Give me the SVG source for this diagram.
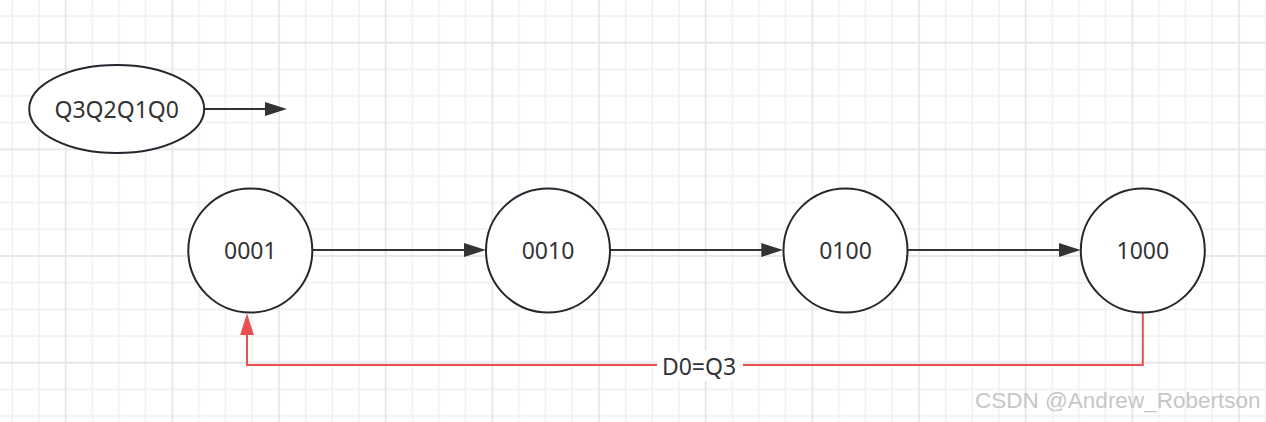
<svg xmlns="http://www.w3.org/2000/svg" width="1266" height="422" viewBox="0 0 1266 422">
  <defs>
    <pattern id="grid" patternUnits="userSpaceOnUse" x="-1" y="-24" width="106.667" height="106.667">
      <g stroke="#f0f0f0" stroke-width="1.5">
        <line x1="13.333" y1="0" x2="13.333" y2="106.667"/>
        <line x1="40" y1="0" x2="40" y2="106.667"/>
        <line x1="93.333" y1="0" x2="93.333" y2="106.667"/>
        <line x1="0" y1="13.333" x2="106.667" y2="13.333"/>
        <line x1="0" y1="40" x2="106.667" y2="40"/>
        <line x1="0" y1="93.333" x2="106.667" y2="93.333"/>
      </g>
      <g stroke="#e4e4e4" stroke-width="1.6">
        <line x1="66.667" y1="0" x2="66.667" y2="106.667"/>
        <line x1="0" y1="66.667" x2="106.667" y2="66.667"/>
      </g>
    </pattern>
    <marker id="arrowDark" markerUnits="userSpaceOnUse" markerWidth="22" markerHeight="14" refX="14" refY="7" orient="auto">
      <path d="M0,0 L22,7 L0,14 Z" fill="#333333"/>
    </marker>
    <marker id="arrowRed" markerUnits="userSpaceOnUse" markerWidth="22" markerHeight="14" refX="14" refY="7" orient="auto">
      <path d="M0,0 L22,7 L0,14 Z" fill="#e85050"/>
    </marker>
  </defs>
  <style>
    .node { fill: #ffffff; stroke: #23272e; stroke-width: 2; }
    .label { font-family: "Noto Sans", "Open Sans", sans-serif; font-size: 23px; fill: #333333; text-anchor: middle; }
    .edge { fill: none; stroke: #333333; stroke-width: 2; marker-end: url(#arrowDark); }
    .edge-red { fill: none; stroke: #e85050; stroke-width: 2; marker-end: url(#arrowRed); }
    .watermark { font-family: "Liberation Sans", Arial, sans-serif; font-size: 22.5px; fill: #c6c6c6; }
  </style>
  <rect x="0" y="0" width="1266" height="422" fill="#ffffff"/>
  <rect x="0" y="0" width="1266" height="422" fill="url(#grid)"/>

  <g id="connectors">
    <path class="edge" d="M204,109 H279"/>
    <path class="edge" d="M312.3,250 H478"/>
    <path class="edge" d="M610,250 H775.3"/>
    <path class="edge" d="M907.5,250 H1072.7"/>
    <path class="edge-red" d="M1142.8,312.5 V365 H247 V321.3"/>
    <rect x="657" y="351" width="86" height="30" fill="#ffffff"/>
    <text class="label" x="699" y="375">D0=Q3</text>
  </g>

  <g id="node-legend">
    <ellipse class="node" cx="116.7" cy="109" rx="87.5" ry="44"/>
    <text class="label" x="116.7" y="117.5">Q3Q2Q1Q0</text>
  </g>
  <g id="node-0001">
    <circle class="node" cx="250.3" cy="250.5" r="62"/>
    <text class="label" x="250.3" y="259">0001</text>
  </g>
  <g id="node-0010">
    <circle class="node" cx="548" cy="250.5" r="62"/>
    <text class="label" x="548" y="259">0010</text>
  </g>
  <g id="node-0100">
    <circle class="node" cx="845.5" cy="250.5" r="62"/>
    <text class="label" x="845.5" y="259">0100</text>
  </g>
  <g id="node-1000">
    <circle class="node" cx="1142.8" cy="250.5" r="62"/>
    <text class="label" x="1142.8" y="259">1000</text>
  </g>

  <text class="watermark" x="975" y="408">CSDN @Andrew_Robertson</text>
</svg>
